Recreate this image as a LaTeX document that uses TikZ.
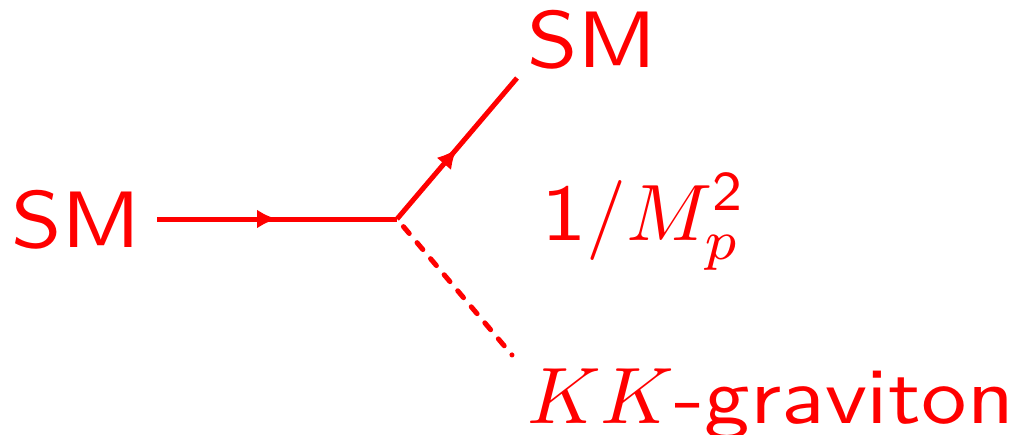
\documentclass[tikz,border=0pt]{standalone}
\usepackage{fontspec}
\usepackage{graphicx}
\usetikzlibrary{decorations.markings,arrows.meta}
\newcommand{\sftxt}[1]{\scalebox{9.1}[8]{\sffamily #1}}
\newcommand{\mtxt}[1]{\scalebox{8}{#1}}
\begin{document}
\begin{tikzpicture}[x=1pt,y=-1pt,
  lbl/.style={inner sep=0pt,outer sep=0pt,text=red,anchor=base west},
  fermion/.style={draw=red,line width=5pt,postaction={decorate},
    decoration={markings,mark=at position 0.5 with {\arrow{Latex[length=20pt,width=19pt]}}}},
  graviton/.style={draw=red,line width=5pt,line cap=round,dash pattern=on 9pt off 12pt,dash phase=11pt}]
\useasboundingbox (0,0) rectangle (1025,434);
\node[lbl] (smL) at (11,247) {\sftxt{SM}};
\node[lbl] (smT) at (527,67) {\sftxt{SM}};
\node[lbl] (cpl) at (541,240) {\sftxt{1}\mtxt{$/M_p^{\mathsf{2}}$}};
\node[lbl] (kk) at (527,423) {\mtxt{$KK$}\sftxt{-graviton}};
\coordinate (a) at (157,219);
\coordinate (v) at (397,219);
\coordinate (b) at (517,78);
\coordinate (g) at (512,355);
\path[fermion] (a) -- (v);
\path[fermion] (v) -- (b);
\path[graviton] (v) -- (g);
\end{tikzpicture}
\end{document}
